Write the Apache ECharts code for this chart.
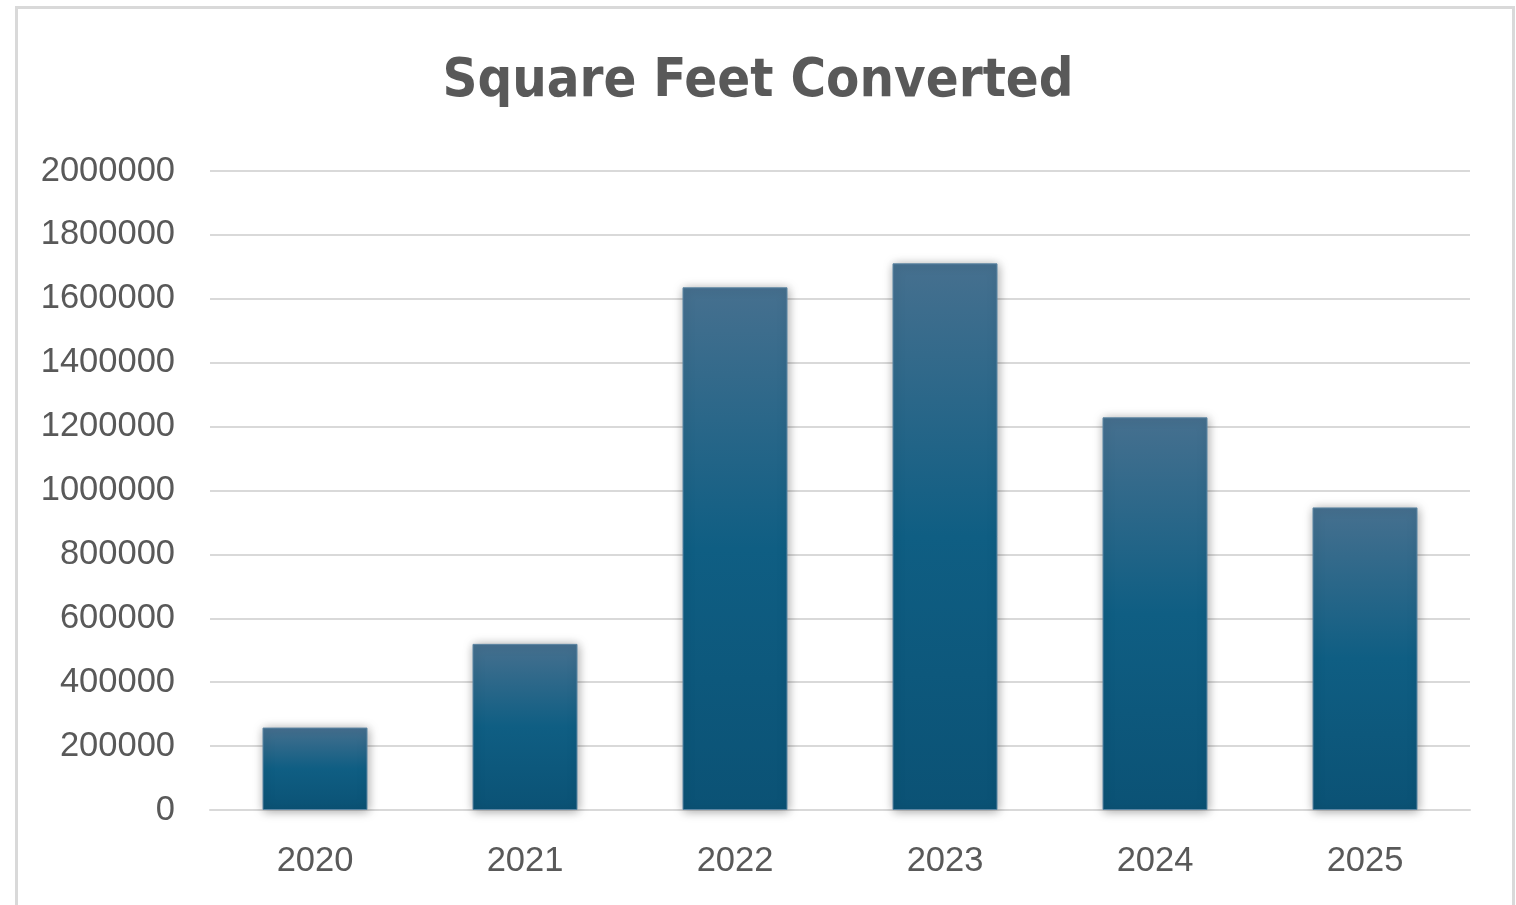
<!DOCTYPE html>
<html>
<head>
<meta charset="utf-8">
<script src="https://cdn.jsdelivr.net/npm/echarts@6/dist/echarts.min.js"></script>
<style>
html,body{margin:0;padding:0;background:#fff;}
#frame{position:absolute;left:15px;top:6px;width:1500px;height:905px;border:3px solid #d9d9d9;border-bottom:none;box-sizing:border-box;}
#chart{position:absolute;left:0;top:0;width:1516px;height:905px;}
</style>
</head>
<body>
<div id="frame"></div>
<div id="chart"></div>
<script>
const titleText = 'Square Feet Converted';
const categories = ['2020', '2021', '2022', '2023', '2024', '2025'];
const sqftValues = [258000, 520000, 1636000, 1711000, 1229000, 947000];
const yTicks = [0, 200000, 400000, 600000, 800000, 1000000, 1200000, 1400000, 1600000, 1800000, 2000000];

const chart = echarts.init(document.getElementById('chart'));
chart.setOption({
  animation: false,
  backgroundColor: 'transparent',
  title: {
    text: titleText,
    left: 'center',
    top: 50,
    textStyle: {
      fontFamily: '"Liberation Sans Narrow", "DejaVu Sans Condensed", "Roboto", sans-serif',
      fontWeight: 'bold',
      fontSize: 54,
      color: '#595959'
    }
  },
  grid: { left: 210, right: 46, top: 171, bottom: 95, containLabel: false },
  xAxis: {
    type: 'category',
    data: categories,
    axisLine: { lineStyle: { color: '#d9d9d9', width: 2 } },
    axisTick: { show: false },
    axisLabel: {
      color: '#595959',
      fontSize: 34.5,
      fontFamily: '"Liberation Sans", Arial, sans-serif',
      margin: 34
    }
  },
  yAxis: {
    type: 'value',
    min: yTicks[0],
    max: yTicks[yTicks.length - 1],
    interval: yTicks[1] - yTicks[0],
    axisLine: { show: false },
    axisTick: { show: false },
    splitLine: { lineStyle: { color: '#d9d9d9', width: 2 } },
    axisLabel: {
      color: '#595959',
      fontSize: 34.5,
      fontFamily: '"Liberation Sans", Arial, sans-serif',
      margin: 35,
      padding: [4, 0, 0, 0],
      formatter: function (v) { return String(v); }
    }
  },
  series: [{
    type: 'bar',
    data: sqftValues,
    barWidth: '50%',
    itemStyle: {
      color: new echarts.graphic.LinearGradient(0, 0, 0, 1, [
        { offset: 0, color: '#46708f' },
        { offset: 0.5, color: '#0f5e83' },
        { offset: 1, color: '#0b5275' }
      ]),
      borderColor: '#5d86a3',
      borderWidth: 1,
      shadowColor: 'rgba(0,0,0,0.35)',
      shadowBlur: 10,
      shadowOffsetX: 1,
      shadowOffsetY: 1
    }
  }]
});
</script>
</body>
</html>
